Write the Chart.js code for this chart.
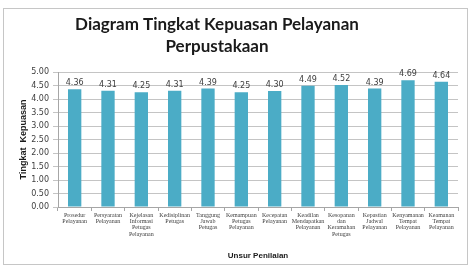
<!DOCTYPE html>
<html><head><meta charset="utf-8">
<script src="https://cdn.jsdelivr.net/npm/chart.js@4.4.0/dist/chart.umd.min.js"></script>
<style>html,body{margin:0;padding:0;background:#fff;}#w{width:470px;height:271px;}</style>
</head><body><div id="w"><canvas id="c" width="470" height="271"></canvas></div>
<script>
const categories = [
  ["Prosedur","Pelayanan"],
  ["Persyaratan","Pelayanan"],
  ["Kejelasan","Informasi","Petugas","Pelayanan"],
  ["Kedisiplinan","Petugas"],
  ["Tanggung","Jawab","Petugas"],
  ["Kemampuan","Petugas","Pelayanan"],
  ["Kecepatan","Pelayanan"],
  ["Keadilan","Mendapatkan","Pelayanan"],
  ["Kesopanan","dan","Keramahan","Petugas"],
  ["Kepastian","Jadwal","Pelayanan"],
  ["Kenyamanan","Tempat","Pelayanan"],
  ["Keamanan","Tempat","Pelayanan"]
];
const values = [4.36, 4.31, 4.25, 4.31, 4.39, 4.25, 4.30, 4.49, 4.52, 4.39, 4.69, 4.64];
const titleLines = ["Diagram Tingkat Kepuasan Pelayanan", "Perpustakaan"];
const yTitle = "Tingkat  Kepuasan";
const xTitle = "Unsur Penilaian";

const decor = {
  id: 'decor',
  beforeDraw(chart) {
    const ctx = chart.ctx;
    ctx.save();
    ctx.fillStyle = '#fff';
    ctx.fillRect(0, 0, chart.width, chart.height);
    ctx.strokeStyle = '#c6c6c6';
    ctx.lineWidth = 1;
    ctx.strokeRect(3.5, 8.5, 464, 256);
    ctx.restore();
  },
  afterDraw(chart) {
    const ctx = chart.ctx;
    ctx.save();
    ctx.fillStyle = '#1a1a1a';
    ctx.font = 'bold 17px Lato';
    ctx.textAlign = 'center';
    ctx.textBaseline = 'middle';
    ctx.fillText(titleLines[0], 217, 25);
    ctx.fillText(titleLines[1], 217, 47);
    const meta = chart.getDatasetMeta(0);
    ctx.font = '8px "DejaVu Sans"';
    ctx.fillStyle = '#404040';
    ctx.textBaseline = 'bottom';
    meta.data.forEach((bar, i) => {
      ctx.fillText(values[i].toFixed(2), bar.x, bar.y - 2);
    });
    ctx.restore();
  }
};

new Chart(document.getElementById('c'), {
  type: 'bar',
  data: {
    labels: categories,
    datasets: [{
      data: values,
      backgroundColor: '#4bacc6',
      borderWidth: 0,
      barPercentage: 0.4,
      categoryPercentage: 1.0
    }]
  },
  options: {
    responsive: false,
    animation: false,
    devicePixelRatio: 1,
    layout: { padding: { left: 4, right: 12, top: 72, bottom: 8 } },
    plugins: { legend: { display: false }, tooltip: { enabled: false }, title: { display: false } },
    scales: {
      x: {
        offset: true,
        grid: { display: true, drawOnChartArea: false, offset: true, color: '#a6a6a6', tickLength: 4 },
        border: { display: true, color: '#a6a6a6' },
        ticks: { font: { family: '"Liberation Serif"', size: 6, lineHeight: 1.05 }, color: '#404040', padding: 1, maxRotation: 0, autoSkip: false },
        title: { display: true, text: xTitle, font: { family: '"Liberation Sans"', size: 8, weight: 'bold' }, color: '#1a1a1a', padding: { top: 0, bottom: 2 } },
        afterFit(s) { s.height = 56; }
      },
      y: {
        min: 0, max: 5,
        grid: { color: '#c4c4c4', tickLength: 5 },
        border: { display: true, color: '#a6a6a6' },
        ticks: { stepSize: 0.5, callback: v => Number(v).toFixed(2), font: { family: '"DejaVu Sans"', size: 8 }, color: '#404040', padding: 4 },
        title: { display: true, text: yTitle, font: { family: '"Liberation Sans"', size: 9, weight: 'bold' }, color: '#1a1a1a', padding: { top: 14, bottom: 0 } },
        afterFit(s) { s.width = 54; }
      }
    }
  },
  plugins: [decor]
});
</script>
</body></html>
